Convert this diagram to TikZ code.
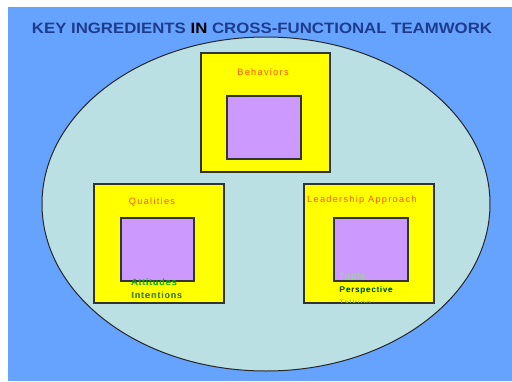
\documentclass[tikz,border=0pt]{standalone}
\usepackage{fontspec}
\setmainfont{Liberation Sans}
\newfontfamily\spaced[LetterSpace=14]{Liberation Sans}
\newfontfamily\widebold[FakeStretch=1.12]{Liberation Sans Bold}
\definecolor{bgblue}{RGB}{102,163,255}
\definecolor{ovalfill}{RGB}{187,224,227}
\definecolor{boxyellow}{RGB}{255,255,0}
\definecolor{boxpurple}{RGB}{204,153,255}
\definecolor{titleblue}{RGB}{30,60,140}
\definecolor{labelorange}{RGB}{255,85,0}
\definecolor{brightgreen}{RGB}{0,210,0}
\definecolor{darkgreen}{RGB}{30,120,0}
\definecolor{palegreen}{RGB}{140,230,120}
\tikzset{
  outerbox/.style={draw=black!80, line width=1.4pt, fill=boxyellow},
  innerbox/.style={draw=black!80, line width=1.2pt, fill=boxpurple},
  orangelabel/.style={text=labelorange, font=\spaced\fontsize{9.2}{10}\selectfont, inner sep=0pt},
  greenlabel/.style={font=\spaced\fontsize{9}{10}\selectfont, inner sep=0pt, anchor=west},
  smalllabel/.style={font=\spaced\fontsize{8}{10}\selectfont, inner sep=0pt, anchor=west},
}
\begin{document}
\begin{tikzpicture}[x=1pt,y=-1pt]
  \useasboundingbox (0,0) rectangle (512,381);
  % backdrop
  \fill[bgblue] (8,7) rectangle (512,381);
  \node[font=\widebold\fontsize{15}{16}\selectfont, text=titleblue, inner sep=0pt] (title) at (262,28)
    {KEY INGREDIENTS \textcolor{black}{IN} CROSS-FUNCTIONAL TEAMWORK};
  % oval
  \draw[fill=ovalfill, draw=black!85, line width=1pt] (266,204) ellipse [x radius=224, y radius=167];

  % Behaviors
  \draw[outerbox] (201,53) rectangle (330,172);
  \draw[innerbox] (227,96) rectangle (301,159);
  \node[orangelabel] (behav) at (263,72) {Behaviors};

  % Qualities
  \draw[outerbox] (94,184) rectangle (224,303);
  \draw[innerbox] (121,218) rectangle (194,281);
  \node[orangelabel] (qual) at (152,202) {Qualities};
  \node[greenlabel, text=black!70] (attsh) at (131.6,282.6) {Attitudes};
  \node[greenlabel, text=brightgreen] (att) at (131,282) {Attitudes};
  \node[greenlabel, text=black!60] (intsh) at (131.6,295.6) {Intentions};
  \node[greenlabel, text=darkgreen] (intent) at (131,295) {Intentions};

  % Leadership Approach
  \draw[outerbox] (304,184) rectangle (434,303);
  \draw[innerbox] (334,218) rectangle (408,281);
  \node[orangelabel, anchor=west] (lead) at (307,200) {Leadership Approach};
  \node[greenlabel, text=palegreen] (tools) at (339,276) {Tools};
  \node[smalllabel, text=brightgreen] (perspsh) at (339,290) {Perspective};
  \node[smalllabel, text=black] (persp) at (339.7,290.4) {Perspective};
  \begin{scope}
    \clip (305,290) rectangle (433,302.3);
    \node[smalllabel, text=palegreen!70!yellow!80!black] (talk) at (339,303) {Talking};
  \end{scope}
\end{tikzpicture}
\end{document}
